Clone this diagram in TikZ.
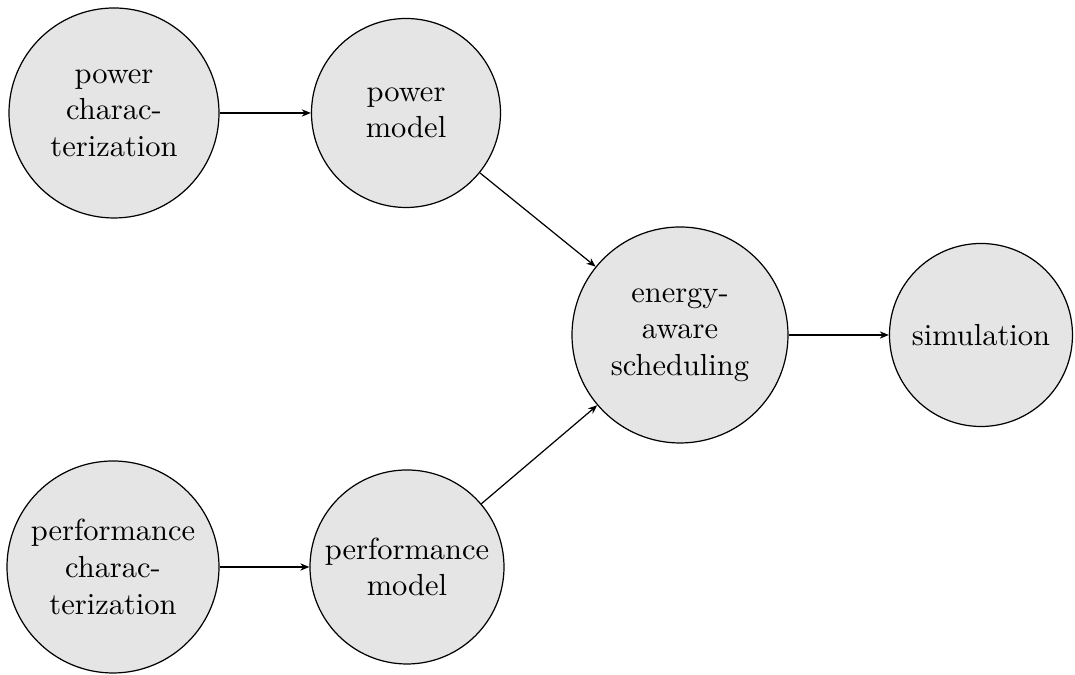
\documentclass[tikz,border=0pt]{standalone}
\usetikzlibrary{arrows.meta}
\begin{document}
\begin{tikzpicture}[x=0.328pt,y=-0.328pt,
  stage/.style={circle,draw=black,line width=0.4pt,fill=black!10,align=center,inner sep=1pt,font=\fontsize{10}{12}\selectfont},
  flow/.style={line width=0.4pt,-{Stealth[length=3pt,width=2.4pt]}}]
\useasboundingbox (0,0) rectangle (1075,675);
\node[stage,minimum size={210*0.328pt}] (pc) at (114,113) {power\\charac-\\terization};
\node[stage,minimum size={189*0.328pt}] (pm) at (406,113) {power\\model};
\node[stage,minimum size={216*0.328pt}] (es) at (680,335) {energy-\\aware\\scheduling};
\node[stage,minimum size={183*0.328pt}] (sim) at (981,335) {simulation};
\node[stage,minimum size={212*0.328pt}] (fc) at (113,567) {performance\\charac-\\terization};
\node[stage,minimum size={194*0.328pt}] (fm) at (407,567) {performance\\model};
\draw[flow] (pc) -- (pm);
\draw[flow] (fc) -- (fm);
\draw[flow] (pm) -- (es);
\draw[flow] (fm) -- (es);
\draw[flow] (es) -- (sim);
\end{tikzpicture}
\end{document}
